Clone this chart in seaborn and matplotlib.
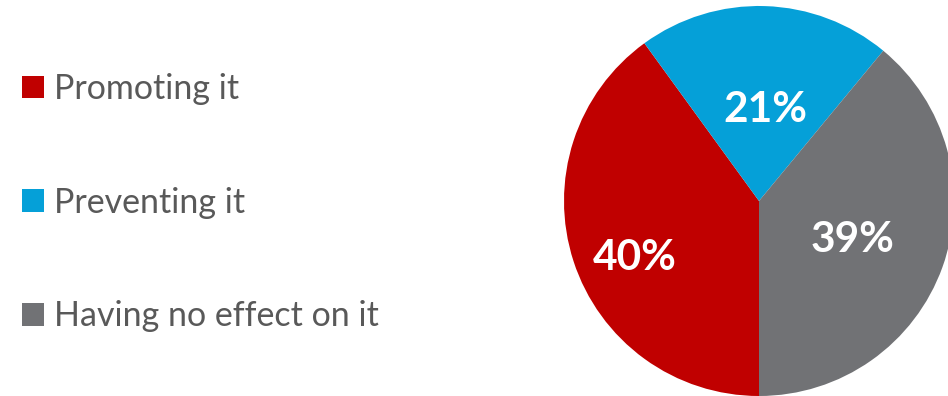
import numpy as np
import matplotlib
matplotlib.use('Agg')
import matplotlib.pyplot as plt
import seaborn as sns

labels = ['Promoting it', 'Preventing it', 'Having no effect on it']
values = [40, 21, 39]
colors = ['#C00000', '#05A0D8', '#717275']

# position des étiquettes (distance du centre, décalage angulaire)
label_r = [0.70, 0.47, 0.52]
label_shift = [6.5, -2, -3]

sns.set_theme(style='white')
plt.rcParams['font.family'] = ['Lato', 'DejaVu Sans']

fig = plt.figure(figsize=(9.48, 3.96), dpi=100)
ax = fig.add_axes([564/948, 0, 390/948, 390/396])

wedges, texts, autotexts = ax.pie(values, colors=colors, startangle=270,
                                  counterclock=False, radius=1,
                                  autopct='%1.0f%%',
                                  wedgeprops=dict(linewidth=0))
ax.set_xlim(-1, 1)
ax.set_ylim(-1, 1)
ax.set_aspect('equal')

for w, t, r, s in zip(wedges, autotexts, label_r, label_shift):
    ang = np.deg2rad((w.theta1 + w.theta2) / 2 + s)
    t.set_position((r*np.cos(ang), r*np.sin(ang)))
    t.set_color('white')
    t.set_fontsize(30.5)
    t.set_fontweight('bold')
    t.set_ha('center')
    t.set_va('center')

leg = fig.legend(wedges, labels, loc='upper left', bbox_to_anchor=(22/948, 1 - 73/396),
                 frameon=False, fontsize=24.5, handlelength=0.65, handleheight=0.65,
                 handletextpad=0.3, labelspacing=2.4, borderaxespad=0, borderpad=0)
for t in leg.get_texts():
    t.set_color('#595959')

fig.savefig('out.png', dpi=100)
